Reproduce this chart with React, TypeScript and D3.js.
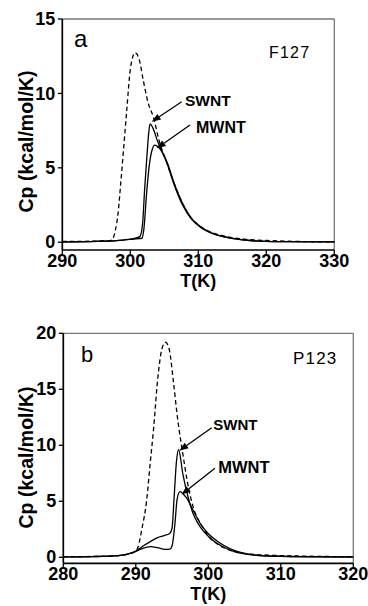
import React from "react";
import * as d3 from "d3";

// panel a : F127
const aPureT = [290, 293, 295, 296.5, 297.3, 297.8, 298.2, 298.6, 299.0, 299.5, 300.0, 300.7, 301.3, 301.9, 302.6, 303.4, 304.2, 305.4, 306.5, 307.8, 309, 310.2, 311.5, 312.7, 314, 315.1, 317, 320, 325, 330];
const aPureCp = [0.05, 0.06, 0.08, 0.1, 0.15, 0.8, 1.95, 4.0, 6.2, 9.0, 11.6, 12.73, 12.3, 10.9, 9.4, 8.4, 6.9, 5.3, 3.9, 2.5, 1.6, 1.1, 0.75, 0.55, 0.4, 0.3, 0.2, 0.12, 0.05, 0.02];
const aSwntT = [290, 295, 299, 300.5, 301.4, 301.8, 302.1, 302.4, 302.7, 302.9, 303.3, 304, 305.4, 306.5, 307.8, 309, 310.2, 311.5, 312.7, 315.1, 318, 322, 330];
const aSwntCp = [0.02, 0.06, 0.15, 0.25, 0.38, 1.2, 3.5, 5.5, 7.3, 7.95, 7.7, 6.8, 5.3, 3.8, 2.4, 1.55, 1.05, 0.7, 0.49, 0.25, 0.1, 0.04, 0.02];
const aMwntT = [290, 295, 299, 300.5, 301.7, 302.0, 302.4, 302.8, 303.2, 303.6, 304.1, 305.4, 306.5, 307.8, 309, 310.2, 311.5, 312.7, 315.1, 318, 322, 330];
const aMwntCp = [0.02, 0.06, 0.15, 0.22, 0.27, 0.9, 3.3, 5.2, 6.2, 6.53, 6.4, 5.4, 3.9, 2.5, 1.6, 1.1, 0.72, 0.5, 0.26, 0.1, 0.04, 0.02];
const aXTicks = [290, 300, 310, 320, 330];
const aYTicks = [0, 5, 10, 15];

// panel b : P123
const bPureT = [280, 284, 287, 289, 289.8, 290.3, 290.8, 291.5, 292.0, 292.4, 293.1, 293.6, 294.1, 294.6, 295.2, 295.8, 296.4, 297.1, 297.9, 298.6, 299.3, 300.0, 301.2, 302.5, 304, 306, 309, 313, 320];
const bPureCp = [0.05, 0.07, 0.12, 0.3, 0.45, 0.9, 2.4, 5.1, 8.5, 11.1, 16.4, 18.6, 19.2, 18.6, 15.6, 12.2, 9.6, 6.8, 4.5, 3.4, 2.6, 1.9, 1.2, 0.75, 0.45, 0.28, 0.17, 0.1, 0.05];
const bSwntT = [280, 284, 287, 289, 289.9, 291, 292, 293, 294, 294.7, 295.0, 295.3, 295.6, 295.9, 296.5, 297.2, 297.9, 298.6, 299.3, 300.2, 301.2, 302.3, 303.4, 305, 307, 310, 314, 320];
const bSwntCp = [0.03, 0.06, 0.12, 0.3, 0.5, 1.0, 1.4, 1.75, 1.95, 2.15, 2.6, 5.5, 8.5, 9.6, 7.4, 5.4, 3.9, 3.0, 2.35, 1.75, 1.25, 0.85, 0.55, 0.3, 0.15, 0.08, 0.04, 0.02];
const bMwntT = [280, 284, 287, 289, 289.9, 290.8, 292, 293, 294, 294.7, 295.0, 295.4, 295.7, 296.1, 296.6, 297.0, 297.9, 298.9, 300.0, 301.2, 302.3, 303.4, 305, 307, 310, 314, 320];
const bMwntCp = [0.03, 0.06, 0.12, 0.3, 0.5, 0.75, 0.95, 0.85, 0.7, 0.72, 1.0, 3.0, 5.2, 5.86, 5.6, 5.3, 4.2, 3.0, 2.1, 1.45, 1.0, 0.65, 0.35, 0.17, 0.09, 0.05, 0.03];
const bXTicks = [280, 290, 300, 310, 320];
const bYTicks = [0, 5, 10, 15, 20];

// annotations, in data units [T, Cp]: label start, arrow tail, arrow tip
const aSwntNote = [[308.04, 9.16], [307.56, 9.44], [303.15, 8.1]];
const aMwntNote = [[309.66, 7.32], [308.78, 7.88], [303.88, 6.31]];
const bSwntNote = [[300.69, 11.37], [300.47, 11.57], [296.0, 9.52]];
const bMwntNote = [[301.38, 7.55], [300.92, 7.95], [296.3, 5.6]];

const FONT = "'Liberation Sans', Arial, Helvetica, sans-serif";

type Pt = number[];

const zip = (t: number[], c: number[]) => t.map((v, i) => [v, c[i]]);

function Arrow({ from, to }: { from: Pt; to: Pt }) {
  const dx = to[0] - from[0];
  const dy = to[1] - from[1];
  const len = Math.sqrt(dx * dx + dy * dy);
  const ux = dx / len, uy = dy / len;
  const hl = 9, hw = 3.4;
  const bx = to[0] - ux * hl, by = to[1] - uy * hl;
  const pts = [
    [to[0], to[1]],
    [bx - uy * hw, by + ux * hw],
    [bx + uy * hw, by - ux * hw],
  ];
  return (
    <g>
      <line x1={from[0]} y1={from[1]} x2={bx} y2={by} stroke="#000" strokeWidth={1.3} />
      <polygon points={pts.map((p) => p.join(",")).join(" ")} fill="#000" />
    </g>
  );
}

function Panel(props: any) {
  const { xDomain, xRange, yDomain, yRange, xTicks, yTicks, pure, swnt, mwnt, letter, letterPos, name, namePos, notes, yLabelY, tickDy, titleDy, letterSize, nameSize, noteSizes } = props;
  const x = d3.scaleLinear().domain(xDomain).range(xRange);
  const y = d3.scaleLinear().domain(yDomain).range(yRange);
  const line = d3
    .line<number[]>()
    .x((d) => x(d[0]))
    .y((d) => y(d[1]))
    .curve(d3.curveMonotoneX);
  const [x0, x1] = xRange;
  const [yb, yt] = yRange;
  return (
    <g>
      {/* frame */}
      <line x1={x0} y1={yt} x2={x1} y2={yt} stroke="#777" strokeWidth={1.3} />
      <line x1={x1} y1={yt} x2={x1} y2={yb} stroke="#777" strokeWidth={1.3} />

      <path d={line(pure) || ""} fill="none" stroke="#000" strokeWidth={1.3} strokeDasharray="4.5,3" />
      <path d={line(swnt) || ""} fill="none" stroke="#000" strokeWidth={1.3} />
      <path d={line(mwnt) || ""} fill="none" stroke="#000" strokeWidth={1.3} />

      <line x1={x0} y1={yt} x2={x0} y2={yb} stroke="#000" strokeWidth={1.7} />
      <line x1={x0} y1={yb} x2={x1} y2={yb} stroke="#000" strokeWidth={1.7} />

      {yTicks.map((t: number) => (
        <g key={"y" + t}>
          <line x1={x0 - 4.5} x2={x0} y1={y(t)} y2={y(t)} stroke="#000" strokeWidth={1.3} />
          <text x={x0 - 7} y={y(t)} dy="0.34em" textAnchor="end" fontFamily={FONT} fontWeight="bold" fontSize={18}>
            {t}
          </text>
        </g>
      ))}
      {xTicks.map((t: number) => (
        <g key={"x" + t}>
          <line x1={x(t)} x2={x(t)} y1={yb} y2={yb + 4.5} stroke="#000" strokeWidth={1.3} />
          <text x={x(t)} y={yb + tickDy} textAnchor="middle" fontFamily={FONT} fontWeight="bold" fontSize={18}>
            {t}
          </text>
        </g>
      ))}

      <text x={(x0 + x1) / 2} y={yb + titleDy} textAnchor="middle" fontFamily={FONT} fontWeight="bold" fontSize={18}>
        T(K)
      </text>
      <text
        transform={`translate(33,${yLabelY}) rotate(-90)`}
        textAnchor="middle"
        fontFamily={FONT}
        fontWeight="bold"
        fontSize={19.5}
      >
        Cp (kcal/mol/K)
      </text>

      <text x={letterPos[0]} y={letterPos[1]} fontFamily={FONT} fontSize={letterSize}>
        {letter}
      </text>
      <text x={namePos[0]} y={namePos[1]} fontFamily={FONT} fontSize={nameSize} letterSpacing={1.2}>
        {name}
      </text>

      {notes.map((n: any, i: number) => (
        <g key={n.label}>
          <text x={x(n.pos[0][0])} y={y(n.pos[0][1])} fontFamily={FONT} fontWeight="bold" fontSize={noteSizes[i]}>
            {n.label}
          </text>
          <Arrow from={[x(n.pos[1][0]), y(n.pos[1][1])]} to={[x(n.pos[2][0]), y(n.pos[2][1])]} />
        </g>
      ))}
    </g>
  );
}

export default function App() {
  return (
    <svg
      width={368}
      height={606}
      style={{ position: "absolute", left: 0, top: 0, background: "#fff" }}
    >
      <rect width={368} height={606} fill="#fff" />
      <Panel
        xDomain={[290, 330]}
        xRange={[62.3, 334.3]}
        yDomain={[-0.52, 15]}
        yRange={[250, 19]}
        xTicks={aXTicks}
        yTicks={aYTicks}
        pure={zip(aPureT, aPureCp)}
        swnt={zip(aSwntT, aSwntCp)}
        mwnt={zip(aMwntT, aMwntCp)}
        letter="a"
        letterPos={[74, 46.5]}
        letterSize={24}
        name="F127"
        namePos={[269, 57.7]}
        nameSize={16}
        notes={[
          { label: "SWNT", pos: aSwntNote },
          { label: "MWNT", pos: aMwntNote },
        ]}
        noteSizes={[15.5, 16]}
        yLabelY={141.5}
        tickDy={16.5}
        titleDy={36.5}
      />
      <Panel
        xDomain={[280, 320]}
        xRange={[63.3, 353.3]}
        yDomain={[-0.54, 20]}
        yRange={[563.3, 333.3]}
        xTicks={bXTicks}
        yTicks={bYTicks}
        pure={zip(bPureT, bPureCp)}
        swnt={zip(bSwntT, bSwntCp)}
        mwnt={zip(bMwntT, bMwntCp)}
        letter="b"
        letterPos={[81, 361.7]}
        letterSize={22}
        name="P123"
        namePos={[293, 364.3]}
        nameSize={17}
        notes={[
          { label: "SWNT", pos: bSwntNote },
          { label: "MWNT", pos: bMwntNote },
        ]}
        noteSizes={[15, 16.5]}
        yLabelY={457.5}
        tickDy={16.5}
        titleDy={37}
      />
    </svg>
  );
}
